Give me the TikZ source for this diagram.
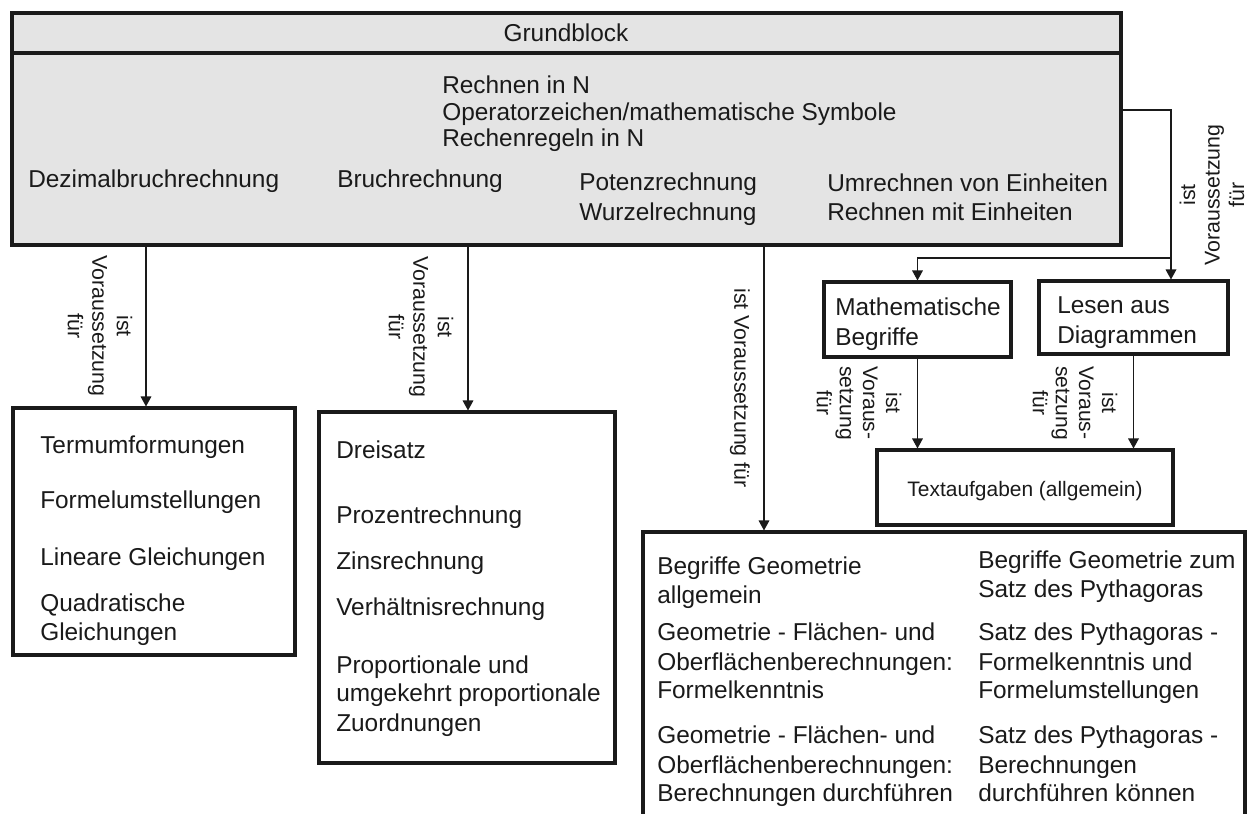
\documentclass[tikz,border=0pt]{standalone}
\usepackage{fontspec}
\setmainfont{Liberation Sans}
\usetikzlibrary{arrows.meta,fit}
\definecolor{blockgray}{HTML}{E4E4E4}
\definecolor{ink}{HTML}{1A1A1A}
\begin{document}
\begin{tikzpicture}[x=0.75pt,y=-0.75pt,
  box/.style={draw=ink, line width=2.3pt, inner sep=0pt},
  arr/.style={draw=ink, line width=0.9pt, -{Triangle[length=7.5pt,width=8pt]}},
  txt/.style={font=\fontsize{18.3}{21.5}\selectfont, text=ink, inner sep=0pt, anchor=base west},
  smalltxt/.style={font=\fontsize{15.7}{18.5}\selectfont, text=ink, inner sep=0pt, anchor=base},
  lbl/.style={font=\fontsize{16}{18.4}\selectfont, text=ink, align=center, inner sep=0pt},
  lblnarrow/.style={font=\fontsize{15.8}{17.3}\selectfont, text=ink, align=center, inner sep=0pt}]

\clip (0,0) rectangle (1247,814);
\fill[white] (0,0) rectangle (1247,814);

% ---------- main block ----------
\node[box, fill=blockgray, fit={(12,13) (1121,245)}] (grund) {};
\coordinate (hdr) at (0,53);
\draw[draw=ink, line width=2.3pt] (grund.west |- hdr) -- (grund.east |- hdr);
\node[txt, anchor=base] (gtitle) at (566,41) {Grundblock};
\node[txt] (g1) at (442,93) {Rechnen in N};
\node[txt] (g2) at (442,120) {Operatorzeichen/mathematische Symbole};
\node[txt] (g3) at (442,146) {Rechenregeln in N};
\node[txt] (gdez) at (28,187) {Dezimalbruchrechnung};
\node[txt] (gbruch) at (337,187) {Bruchrechnung};
\node[txt] (gpot) at (579,190) {Potenzrechnung};
\node[txt] (gwurz) at (579,220) {Wurzelrechnung};
\node[txt] (gumr) at (827,191) {Umrechnen von Einheiten};
\node[txt] (grme) at (827,220) {Rechnen mit Einheiten};

% ---------- lower boxes ----------
\node[box, fit={(13,408) (295,655)}] (termbox) {};
\node[txt] (t1) at (40,453) {Termumformungen};
\node[txt] (t2) at (40,508) {Formelumstellungen};
\node[txt] (t3) at (40,565) {Lineare Gleichungen};
\node[txt] (t4) at (40,611) {Quadratische};
\node[txt] (t5) at (40,640) {Gleichungen};

\node[box, fit={(319,412) (615,763)}] (dreibox) {};
\node[txt] (d1) at (336,458) {Dreisatz};
\node[txt] (d2) at (336,523) {Prozentrechnung};
\node[txt] (d3) at (336,569) {Zinsrechnung};
\node[txt] (d4) at (336,615) {Verhältnisrechnung};
\node[txt] (d5) at (336,673) {Proportionale und};
\node[txt] (d6) at (336,701) {umgekehrt proportionale};
\node[txt] (d7) at (336,731) {Zuordnungen};

\node[box, fit={(824,282) (1011,357)}] (mathbox) {};
\node[txt] (m1) at (835,315) {Mathematische};
\node[txt] (m2) at (835,345) {Begriffe};

\node[box, fit={(1039,281) (1228,354)}] (lesebox) {};
\node[txt] (l1) at (1057,313) {Lesen aus};
\node[txt] (l2) at (1057,343) {Diagrammen};

\node[box, fit={(877,450) (1173,525)}] (textbox) {};
\node[smalltxt] (ta) at (1025,496) {Textaufgaben (allgemein)};

\node[box, fit={(643,532) (1245,860)}] (geobox) {};
\node[txt] (ga1) at (657,574) {Begriffe Geometrie};
\node[txt] (ga2) at (657,603) {allgemein};
\node[txt] (ga3) at (657,640) {Geometrie - Flächen- und};
\node[txt] (ga4) at (657,670) {Oberflächenberechnungen:};
\node[txt] (ga5) at (657,698) {Formelkenntnis};
\node[txt] (ga6) at (657,743) {Geometrie - Flächen- und};
\node[txt] (ga7) at (657,773) {Oberflächenberechnungen:};
\node[txt] (ga8) at (657,801) {Berechnungen durchführen};
\node[txt] (gb1) at (978,568) {Begriffe Geometrie zum};
\node[txt] (gb2) at (978,597) {Satz des Pythagoras};
\node[txt] (gb3) at (978,640) {Satz des Pythagoras -};
\node[txt] (gb4) at (978,670) {Formelkenntnis und};
\node[txt] (gb5) at (978,698) {Formelumstellungen};
\node[txt] (gb6) at (978,743) {Satz des Pythagoras -};
\node[txt] (gb7) at (978,773) {Berechnungen};
\node[txt] (gb8) at (978,801) {durchführen können};

% ---------- connectors ----------
\coordinate (xa) at (146,0);
\coordinate (xb) at (468,0);
\coordinate (xc) at (764,0);
\coordinate (yr) at (0,110);
\coordinate (split) at (1171,258);

\draw[arr] (grund.south -| xa) -- (termbox.north -| xa);
\draw[arr] (grund.south -| xb) -- (dreibox.north -| xb);
\draw[arr] (grund.south -| xc) -- (geobox.north -| xc);
\draw[arr] (grund.east |- yr) -| (lesebox.north -| split);
\draw[arr] (split) -| (mathbox.north);
\draw[arr] (mathbox.south) -- (textbox.north -| mathbox.south);
\draw[arr] (lesebox.south) -- (textbox.north -| lesebox.south);

% ---------- connector labels ----------
\node[lbl, rotate=-90] (la) at (100,326) {ist\\Voraussetzung\\für};
\node[lbl, rotate=-90] (lb) at (421,327) {ist\\Voraussetzung\\für};
\node[lbl, rotate=-90] (lc) at (740,388) {ist Voraussetzung für};
\node[lbl, rotate=90] (ld) at (1212,195) {ist\\Voraussetzung\\für};
\node[lblnarrow, rotate=-90] (le) at (859,403) {ist\\Voraus-\\setzung\\für};
\node[lblnarrow, rotate=-90] (lf) at (1075,403) {ist\\Voraus-\\setzung\\für};

\end{tikzpicture}
\end{document}
